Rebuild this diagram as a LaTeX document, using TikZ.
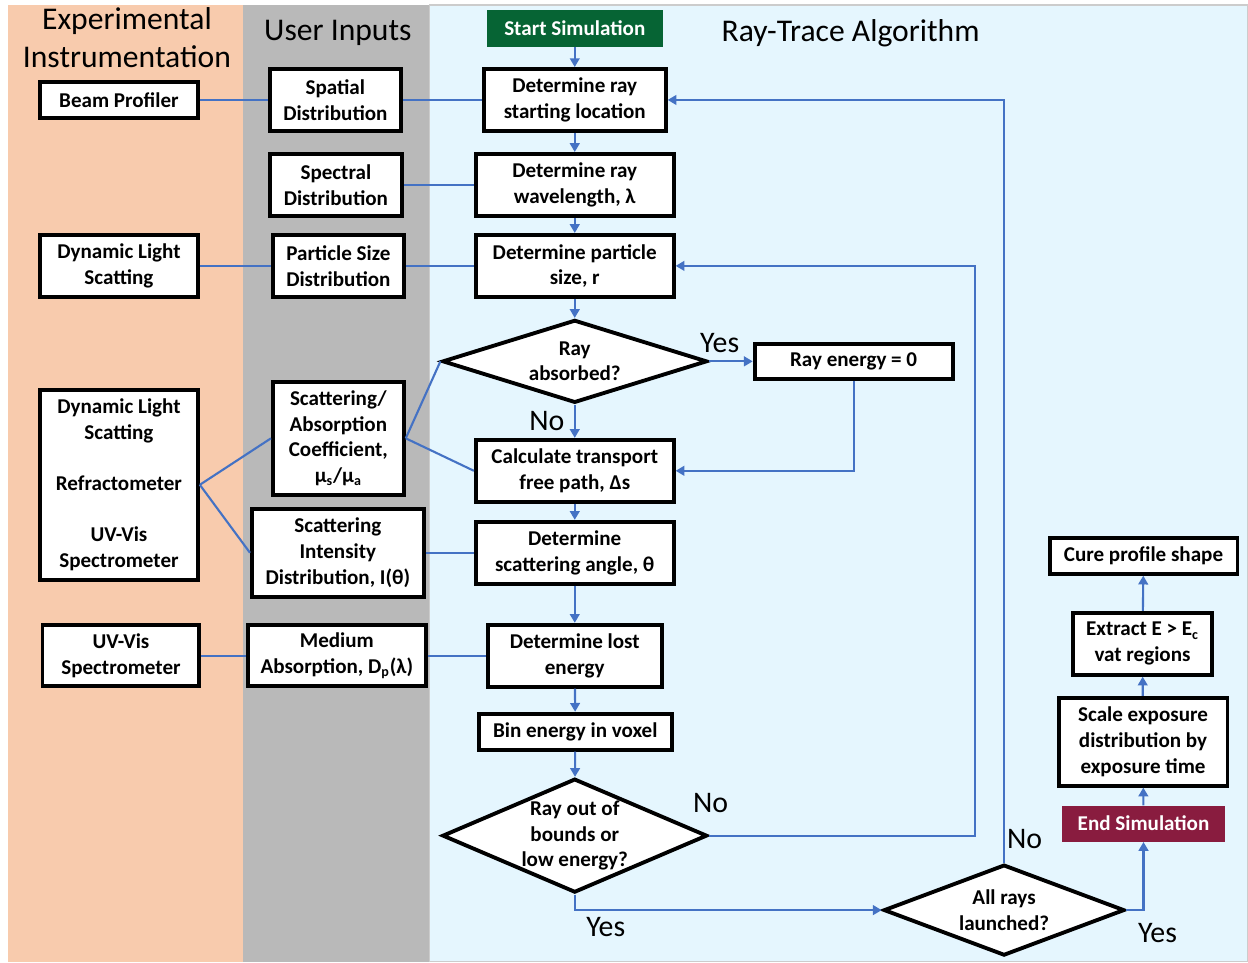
\documentclass[tikz,border=0pt]{standalone}
\usepackage{fontspec}
\setmainfont{Carlito}
\usetikzlibrary{shapes.geometric,arrows.meta}
\definecolor{peachband}{RGB}{248,203,173}
\definecolor{grayband}{RGB}{185,185,185}
\definecolor{skyband}{RGB}{229,246,254}
\definecolor{startgreen}{RGB}{6,100,52}
\definecolor{endmaroon}{RGB}{137,28,63}
\definecolor{linkblue}{RGB}{68,114,196}
\begin{document}
\begin{tikzpicture}[x=0.02cm,y=-0.02cm,
        box/.style={draw=black,line width=2.2pt,fill=white,align=center,inner sep=1pt,
            font=\bfseries\fontsize{12}{14.6}\selectfont},
        decision/.style={box,diamond,aspect=2,inner sep=-30pt},
        terminal/.style={fill=#1,text=white,align=center,inner sep=1pt,
            font=\bfseries\fontsize{12}{14.6}\selectfont},
        heading/.style={align=center,font=\fontsize{18}{21.5}\selectfont},
        answer/.style={font=\fontsize{17}{20}\selectfont},
        link/.style={draw=linkblue,line width=1.2pt},
        flow/.style={link,-{Triangle[length=5pt,width=5.5pt]}}]
        % bands
        \fill[white] (0,0) rectangle (1248,962);
        \fill[peachband] (8,5) rectangle (243,962);
        \fill[grayband] (243,5) rectangle (430,962);
        \filldraw[fill=skyband,draw=gray!40,line width=0.6pt] (430,5) rectangle (1248,962);
        \node[heading] (hexp) at (127,38) {Experimental\\Instrumentation};
        \node[heading] (huser) at (338,33) {User Inputs};
        \node[heading] (halgo) at (851,33) {Ray-Trace Algorithm};
        % experimental instrumentation
        \node[box,minimum width=3.16cm,minimum height=0.72cm] (beam) at (119,100) {Beam Profiler};
        \node[box,minimum width=3.16cm,minimum height=1.24cm] (dls) at (119,266) {Dynamic Light\\Scatting};
        \node[box,minimum width=3.16cm,minimum height=3.8cm] (instr) at (119,485)
            {Dynamic Light\\Scatting\\[14.6pt]Refractometer\\[14.6pt]UV-Vis\\Spectrometer};
        \node[box,minimum width=3.14cm,minimum height=1.22cm] (uvvis) at (121,656) {UV-Vis\\Spectrometer};
        % user inputs
        \node[box,minimum width=2.62cm,minimum height=1.24cm] (spatial) at (335.5,100) {Spatial\\Distribution};
        \node[box,minimum width=2.64cm,minimum height=1.24cm] (spectral) at (336,185) {Spectral\\Distribution};
        \node[box,minimum width=2.62cm,minimum height=1.24cm] (psd) at (338.5,266) {Particle Size\\Distribution};
        \node[box,minimum width=2.62cm,minimum height=2.26cm] (coeff) at (338.5,438.5)
            {Scattering/\\Absorption\\Coefficient,\\μ\textsubscript{s}/μ\textsubscript{a}};
        \node[box,minimum width=3.44cm,minimum height=1.76cm] (intens) at (338,553)
            {Scattering\\Intensity\\Distribution, I(θ)};
        \node[box,minimum width=3.56cm,minimum height=1.22cm] (medium) at (337,656)
            {Medium\\Absorption, D\textsubscript{p}(λ)};
        % ray-trace algorithm
        \node[terminal=startgreen,minimum width=3.52cm,minimum height=0.74cm] (start) at (575,28.5) {Start Simulation};
        \node[box,minimum width=3.64cm,minimum height=1.24cm] (raystart) at (575,100) {Determine ray\\starting location};
        \node[box,minimum width=3.96cm,minimum height=1.24cm] (wavelen) at (575,185) {Determine ray\\wavelength, λ};
        \node[box,minimum width=3.96cm,minimum height=1.24cm] (size) at (575,266) {Determine particle\\size, r};
        \node[decision,minimum width=5.3cm,minimum height=1.66cm] (absorbed) at (575,361.5) {Ray\\absorbed?};
        \node[box,minimum width=3.96cm,minimum height=0.7cm] (rayzero) at (854,361.5) {Ray energy = 0};
        \node[box,minimum width=3.96cm,minimum height=1.24cm] (transport) at (575,471) {Calculate transport\\free path, Δs};
        \node[box,minimum width=3.96cm,minimum height=1.24cm] (angle) at (575,553) {Determine\\scattering angle, θ};
        \node[box,minimum width=3.48cm,minimum height=1.24cm] (lost) at (575,656) {Determine lost\\energy};
        \node[box,minimum width=3.86cm,minimum height=0.72cm] (bin) at (575.5,732) {Bin energy in voxel};
        \node[decision,minimum width=5.3cm,minimum height=2.28cm] (bounds) at (575,836) {Ray out of\\bounds or\\low energy?};
        \node[decision,minimum width=4.82cm,minimum height=1.82cm] (allrays) at (1004.5,910.5) {All rays\\launched?};
        \node[terminal=endmaroon,minimum width=3.28cm,minimum height=0.72cm] (endsim) at (1144,824) {End Simulation};
        \node[box,minimum width=3.38cm,minimum height=1.76cm] (scale) at (1143.5,742)
            {Scale exposure\\distribution by\\exposure time};
        \node[box,minimum width=2.78cm,minimum height=1.24cm] (extract) at (1143,644) {Extract E > E\textsubscript{c}\\vat regions};
        \node[box,minimum width=3.76cm,minimum height=0.72cm] (cure) at (1144,556) {Cure profile shape};
        \coordinate (retsize) at (975,266);
        % inputs
        \draw[link] (beam) -- (spatial);
        \draw[link] (spatial) -- (raystart);
        \draw[link] (spectral) -- (wavelen);
        \draw[link] (dls) -- (psd);
        \draw[link] (psd) -- (size);
        \draw[link] (instr.east) -- (coeff.west);
        \draw[link] (instr.east) -- (intens.west);
        \draw[link] (coeff.east) -- (absorbed.west);
        \draw[link] (coeff.east) -- (transport.west);
        \draw[link] (intens) -- (angle);
        \draw[link] (uvvis) -- (medium);
        \draw[link] (medium) -- (lost);
        % flow
        \draw[flow] (start) -- (raystart);
        \draw[flow] (raystart) -- (wavelen);
        \draw[flow] (wavelen) -- (size);
        \draw[flow] (size) -- (absorbed);
        \draw[flow] (absorbed) -- (transport);
        \draw[flow] (absorbed) -- (rayzero);
        \draw[flow] (rayzero.south) |- (transport.east);
        \draw[flow] (transport) -- (angle);
        \draw[flow] (angle) -- (lost);
        \draw[flow] (lost) -- (bin);
        \draw[flow] (bin) -- (bounds);
        \draw[flow] (bounds.east) -| (retsize) -- (size.east);
        \draw[flow] (bounds.south) |- (allrays.west);
        \draw[flow] (allrays.north) |- (raystart.east);
        \draw[flow] (allrays.east) -| (endsim.south);
        \draw[flow] (endsim) -- (scale);
        \draw[flow] (scale) -- (extract);
        \draw[flow] (extract) -- (cure);
        % answers
        \node[answer] (yesabs) at (720,343) {Yes};
        \node[answer] (noabs) at (547,421) {No};
        \node[answer] (nobounds) at (711,803) {No};
        \node[answer] (yesbounds) at (606,927) {Yes};
        \node[answer] (noall) at (1025,839) {No};
        \node[answer] (yesall) at (1158,933) {Yes};
    \end{tikzpicture}
\end{document}
